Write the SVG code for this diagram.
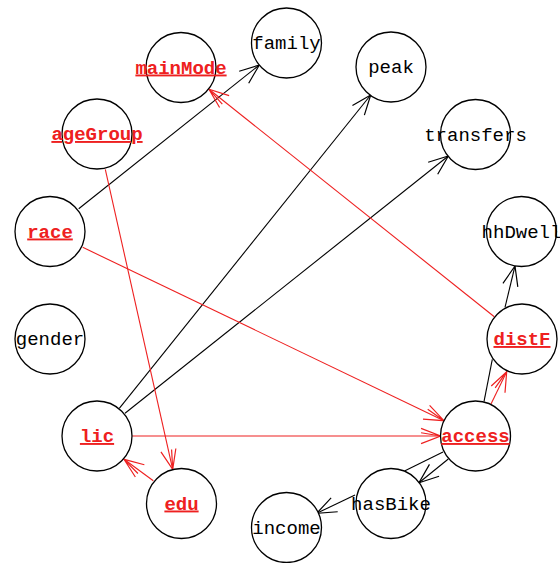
<svg xmlns="http://www.w3.org/2000/svg" width="560" height="563" viewBox="0 0 560 563">
  <style>
    .node circle { fill: #ffffff; stroke: #000000; stroke-width: 1.3; }
    .node text { font-family: "Liberation Mono", "Courier New", monospace; font-size: 19px; text-anchor: middle; fill: #000000; }
    .node.hl text { fill: #ee2020; font-weight: bold; text-decoration: underline; }
    .edges line { stroke-width: 1.1; fill: none; }
    .edges .k { stroke: #000000; }
    .edges .r { stroke: #ee2020; }
    .edges .ka { stroke: #000000; marker-end: url(#headK); }
    .edges .ra { stroke: #ee2020; marker-end: url(#headR); }
  </style>
  <defs>
    <marker id="headK" markerUnits="userSpaceOnUse" markerWidth="24" markerHeight="24" viewBox="-20 -10 22 20" refX="0" refY="0" orient="auto">
      <path d="M-18,-7 L0,0 L-18,7" fill="none" stroke="#000000" stroke-width="1.1"/>
    </marker>
    <marker id="headR" markerUnits="userSpaceOnUse" markerWidth="24" markerHeight="24" viewBox="-20 -10 22 20" refX="0" refY="0" orient="auto">
      <path d="M-18,-7 L0,0 L-18,7 M-18,-3 L0,0" fill="none" stroke="#ee2020" stroke-width="1.1"/>
    </marker>
  </defs>

  <rect width="560" height="563" fill="#ffffff"/>

  <g id="edges" class="edges">
    <line class="ka" x1="78.7" y1="208.7" x2="259.3" y2="65"/>
    <line class="ka" x1="119.3" y1="408.3" x2="370.7" y2="95"/>
    <line class="ka" x1="125" y1="413.3" x2="448.3" y2="156"/>
    <line class="ka" x1="505" y1="307.3" x2="515" y2="266"/>
    <line class="k" x1="484" y1="401.7" x2="492.3" y2="359.3"/>
    <line class="k" x1="443" y1="452" x2="405" y2="470.7"/>
    <line class="ka" x1="448.3" y1="459" x2="419" y2="482.7"/>
    <line class="ka" x1="355" y1="495" x2="316.7" y2="513.3"/>
    <line class="ra" x1="105.3" y1="169.3" x2="172.7" y2="469.3"/>
    <line class="ra" x1="82.7" y1="247.3" x2="444" y2="420.7"/>
    <line class="ra" x1="132.3" y1="436" x2="440.7" y2="436"/>
    <line class="ra" x1="153.3" y1="480.7" x2="124" y2="459.3"/>
    <line class="ra" x1="494.3" y1="316.7" x2="209" y2="89.3"/>
    <line class="ra" x1="491" y1="404" x2="506.7" y2="371.7"/>
  </g>

  <g id="family" class="node"><circle cx="286.5" cy="43" r="35"/><text x="286.5" y="49">family</text></g>
  <g id="mainMode" class="node hl"><circle cx="181" cy="67.5" r="35"/><text x="181" y="73.5">mainMode</text></g>
  <g id="peak" class="node"><circle cx="391" cy="67" r="35"/><text x="391" y="73">peak</text></g>
  <g id="ageGroup" class="node hl"><circle cx="97" cy="134" r="35"/><text x="97" y="140">ageGroup</text></g>
  <g id="transfers" class="node"><circle cx="475.5" cy="134.5" r="35"/><text x="475.5" y="140.5">transfers</text></g>
  <g id="race" class="node hl"><circle cx="50" cy="231.5" r="35"/><text x="50" y="237.5">race</text></g>
  <g id="hhDwell" class="node"><circle cx="521.5" cy="231.5" r="35"/><text x="521.5" y="237.5">hhDwell</text></g>
  <g id="gender" class="node"><circle cx="50" cy="339" r="35"/><text x="50" y="345">gender</text></g>
  <g id="distF" class="node hl"><circle cx="522" cy="339" r="35"/><text x="522" y="345">distF</text></g>
  <g id="lic" class="node hl"><circle cx="97" cy="436" r="35"/><text x="97" y="442">lic</text></g>
  <g id="access" class="node hl"><circle cx="475.5" cy="436" r="35"/><text x="475.5" y="442">access</text></g>
  <g id="edu" class="node hl"><circle cx="181.5" cy="503.5" r="35"/><text x="181.5" y="509.5">edu</text></g>
  <g id="hasBike" class="node"><circle cx="391" cy="503.5" r="35"/><text x="391" y="509.5">hasBike</text></g>
  <g id="income" class="node"><circle cx="286.5" cy="527.5" r="35"/><text x="286.5" y="533.5">income</text></g>
</svg>
